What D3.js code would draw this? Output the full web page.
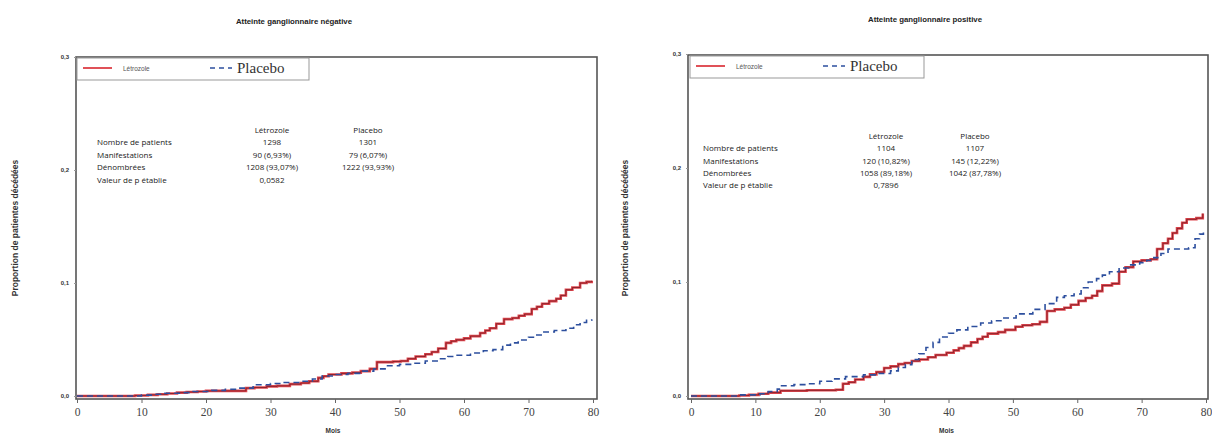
<!DOCTYPE html>
<html><head><meta charset="utf-8">
<script src="https://cdn.jsdelivr.net/npm/d3@7"></script>
<style>body{margin:0;background:#fff}svg{display:block}</style>
</head><body><svg id="c" width="1212" height="440"></svg>
<script>
// ---------- data ----------
const titles = ["Atteinte ganglionnaire négative", "Atteinte ganglionnaire positive"];
const seriesNames = ["Létrozole", "Placebo"];
const xTicks = [0, 10, 20, 30, 40, 50, 60, 70, 80];
const yTicks = [0, 0.1, 0.2, 0.3];
const yTickLabels = ["0,0", "0,1", "0,2", "0,3"];
const xTitle = "Mois";
const yTitle = "Proportion de patientes décédées";
const tableRows = ["Nombre de patients", "Manifestations", "Dénombrées", "Valeur de p établie"];

// negative nodes
const negLetMonths = [0, 9, 11, 12.5, 14, 15.5, 17, 18.7, 20, 26.2, 27.5, 29.4, 31, 33, 34.7, 36, 37.4, 38.2, 39, 41, 42.7, 44, 45.4, 46.5, 49, 50.2, 51.3, 52.5, 54, 55, 56, 57.2, 58, 58.8, 60, 61, 62.5, 63.3, 64, 65, 66.2, 67.5, 68.5, 69.4, 70.5, 71.3, 72.1, 73.2, 74.3, 75, 75.8, 76.8, 78, 79, 79.8];
const negLetValues = [0, 0.0005, 0.001, 0.0015, 0.0022, 0.003, 0.0035, 0.004, 0.0045, 0.007, 0.0075, 0.0085, 0.009, 0.0105, 0.0115, 0.013, 0.016, 0.0175, 0.019, 0.02, 0.0207, 0.022, 0.024, 0.03, 0.0305, 0.031, 0.033, 0.035, 0.037, 0.039, 0.042, 0.047, 0.0485, 0.0497, 0.051, 0.053, 0.0557, 0.058, 0.06, 0.064, 0.068, 0.069, 0.071, 0.0725, 0.077, 0.079, 0.0817, 0.084, 0.086, 0.089, 0.094, 0.096, 0.1, 0.101, 0.102];
const negPlaMonths = [0, 10, 12, 13.3, 16, 18, 20.9, 23, 25.1, 27.3, 30, 32, 34.7, 36.5, 38, 40, 42, 44.3, 46, 48, 50, 52, 54, 56, 57.5, 58.8, 61, 63, 64.5, 66, 67.2, 68.4, 70, 71, 72.1, 74, 75.8, 77, 78, 79, 79.8];
const negPlaValues = [0, 0.0008, 0.0015, 0.0025, 0.003, 0.004, 0.005, 0.006, 0.007, 0.01, 0.011, 0.012, 0.013, 0.015, 0.0177, 0.019, 0.02, 0.022, 0.024, 0.0268, 0.028, 0.029, 0.031, 0.033, 0.035, 0.036, 0.038, 0.04, 0.041, 0.045, 0.047, 0.0496, 0.052, 0.054, 0.0566, 0.058, 0.06, 0.063, 0.065, 0.067, 0.068];
const negTableLet = ["1298", "90 (6,93%)", "1208 (93,07%)", "0,0582"];
const negTablePla = ["1301", "79 (6,07%)", "1222 (93,93%)", ""];

// positive nodes
const posLetMonths = [0, 7.5, 9, 10.5, 12, 13.9, 18, 22.5, 23.6, 24.5, 25.5, 26.8, 27.8, 28.8, 30, 31, 32.2, 33.2, 34.3, 35.5, 36.8, 38, 39.7, 40.8, 41.6, 42.4, 43.5, 44.5, 45.3, 46.1, 47.7, 48.8, 50.4, 51.5, 53, 54.2, 55.3, 56.5, 58, 59, 60.2, 61.3, 62.3, 63.1, 63.9, 65.4, 66.5, 67.5, 68.7, 70, 71.4, 72.4, 73.3, 74.1, 74.8, 75.5, 76.3, 77, 78.5, 79.5];
const posLetValues = [0, 0.0005, 0.001, 0.002, 0.003, 0.0046, 0.005, 0.0055, 0.0107, 0.012, 0.0145, 0.0168, 0.019, 0.021, 0.0246, 0.026, 0.028, 0.029, 0.0307, 0.032, 0.034, 0.036, 0.038, 0.04, 0.042, 0.044, 0.047, 0.05, 0.052, 0.0547, 0.056, 0.058, 0.0607, 0.062, 0.063, 0.065, 0.0746, 0.076, 0.0774, 0.08, 0.0834, 0.086, 0.088, 0.092, 0.097, 0.0986, 0.109, 0.113, 0.118, 0.119, 0.12, 0.129, 0.134, 0.138, 0.143, 0.147, 0.152, 0.155, 0.156, 0.16];
const posPlaMonths = [0, 7.5, 10.7, 12, 13.4, 13.9, 16, 18.2, 20, 21.9, 24, 26.8, 28.9, 31, 32.2, 33.3, 34.3, 35.4, 36.5, 37.6, 38.6, 40, 41.3, 43, 45, 46.7, 48.3, 50.5, 53.1, 55, 56.8, 58, 59.5, 60.6, 61.7, 63, 63.9, 65, 66.5, 68, 69.7, 70.8, 71.9, 73, 74.1, 77.3, 78.3, 79, 79.6];
const posPlaValues = [0, 0.001, 0.002, 0.004, 0.006, 0.009, 0.01, 0.0107, 0.013, 0.015, 0.017, 0.0185, 0.0198, 0.022, 0.025, 0.0274, 0.032, 0.037, 0.0425, 0.047, 0.0518, 0.055, 0.058, 0.061, 0.064, 0.066, 0.0684, 0.072, 0.076, 0.081, 0.0865, 0.088, 0.0895, 0.095, 0.1, 0.103, 0.106, 0.109, 0.1123, 0.115, 0.117, 0.119, 0.1214, 0.125, 0.129, 0.13, 0.138, 0.142, 0.147];
const posTableLet = ["1104", "120 (10,82%)", "1058 (89,18%)", "0,7896"];
const posTablePla = ["1107", "145 (12,22%)", "1042 (87,78%)", ""];

// ---------- layout ----------
const panels = [
  {title: titles[0], box: [76, 57, 597, 399], xr: [77, 593], yr: [396, 57], titleX: 294, titleY: 24,
   ylabX: 18, tbl: {lx: 97, c1: 272, c2: 368, y: 133, dy: 12.4}, leg: [77, 309],
   let: [negLetMonths, negLetValues], pla: [negPlaMonths, negPlaValues], tl: negTableLet, tp: negTablePla},
  {title: titles[1], box: [688, 55, 1208, 399], xr: [691, 1206], yr: [396, 54], titleX: 925, titleY: 22,
   ylabX: 628, tbl: {lx: 703, c1: 886, c2: 975, y: 139, dy: 12.3}, leg: [690, 924],
   let: [posLetMonths, posLetValues], pla: [posPlaMonths, posPlaValues], tl: posTableLet, tp: posTablePla}
];

const svg = d3.select("#c");
const RED = "#d9262f", BLUE = "#2d4f9e";
const SANS = "Liberation Sans, Arial, sans-serif";

panels.forEach(p => {
  const g = svg.append("g");
  const x = d3.scaleLinear().domain([0, 80]).range(p.xr);
  const y = d3.scaleLinear().domain([0, 0.3]).range(p.yr);
  const [bx0, by0, bx1, by1] = p.box;

  g.append("text").attr("x", p.titleX).attr("y", p.titleY).attr("text-anchor", "middle")
    .attr("font-family", SANS).attr("font-size", 7.8).attr("font-weight", "bold")
    .attr("fill", "#222").text(p.title);

  // frame
  g.append("rect").attr("x", bx0).attr("y", by0).attr("width", bx1 - bx0).attr("height", by1 - by0)
    .attr("fill", "none").attr("stroke", "#555").attr("stroke-width", 1.6);

  // x axis
  const xa = g.append("g").attr("transform", `translate(0,${by1})`)
    .call(d3.axisBottom(x).tickValues(xTicks).tickSize(4).tickSizeOuter(0));
  xa.select(".domain").remove();
  xa.selectAll("line").attr("stroke", "#666");
  xa.selectAll("text").attr("font-family", "Liberation Serif, serif").attr("font-size", 11.5)
    .attr("fill", "#444").attr("dy", "0.9em");
  g.append("text").attr("x", (p.xr[0] + p.xr[1]) / 2 - 2).attr("y", by1 + 34).attr("text-anchor", "middle")
    .attr("font-family", SANS).attr("font-size", 6.5).attr("font-weight", "bold")
    .attr("fill", "#333").text(xTitle);

  // y axis
  const ya = g.append("g").attr("transform", `translate(${bx0},0)`)
    .call(d3.axisLeft(y).tickValues(yTicks).tickFormat((d, i) => yTickLabels[i]).tickSize(2).tickSizeOuter(0));
  ya.select(".domain").remove();
  ya.selectAll("line").attr("stroke", "#999");
  ya.selectAll("text").attr("font-family", SANS).attr("font-size", 6)
    .attr("font-weight", "bold").attr("fill", "#333").attr("x", -7);
  g.append("text").attr("transform", `translate(${p.ylabX},228) rotate(-90)`).attr("text-anchor", "middle")
    .attr("font-family", SANS).attr("font-size", 8.5).attr("font-weight", "bold")
    .attr("fill", "#333").text(yTitle);

  // curves
  const line = d3.line().x(d => x(d[0])).y(d => y(d[1])).curve(d3.curveStepAfter);
  const pla = d3.zip(p.pla[0], p.pla[1]);
  const lt = d3.zip(p.let[0], p.let[1]);
  g.append("path").datum(lt).attr("d", line).attr("fill", "none").attr("stroke", RED).attr("stroke-width", 2.6)
    .attr("stroke-opacity", 0.85);
  g.append("path").datum(lt).attr("d", line).attr("fill", "none").attr("stroke", "#7a1a22").attr("stroke-width", 0.8);
  g.append("path").datum(pla).attr("d", line).attr("fill", "none").attr("stroke", BLUE).attr("stroke-width", 1.6)
    .attr("stroke-dasharray", "6,4");

  // legend
  const [lx0, lx1] = p.leg;
  g.append("rect").attr("x", lx0).attr("y", by0 + 1).attr("width", lx1 - lx0).attr("height", 22)
    .attr("fill", "#fff").attr("stroke", "#999").attr("stroke-width", 1);
  const ly = by0 + 11;
  g.append("line").attr("x1", lx0 + 6).attr("x2", lx0 + 35).attr("y1", ly).attr("y2", ly)
    .attr("stroke", RED).attr("stroke-width", 1.6);
  g.append("text").attr("x", lx0 + 46).attr("y", ly + 2.5).attr("font-family", SANS)
    .attr("font-size", 6.5).attr("fill", "#555").text(seriesNames[0]);
  g.append("line").attr("x1", lx0 + 133).attr("x2", lx0 + 155).attr("y1", ly).attr("y2", ly)
    .attr("stroke", BLUE).attr("stroke-width", 1.3).attr("stroke-dasharray", "5,4");
  g.append("text").attr("x", lx0 + 160).attr("y", ly + 5).attr("font-family", "Liberation Serif, Times New Roman, serif")
    .attr("font-size", 15).attr("fill", "#333").text(seriesNames[1]);

  // table
  const t = p.tbl;
  const tf = "Open Sans, Liberation Sans, sans-serif";
  const fs = 8;
  g.append("text").attr("x", t.c1).attr("y", t.y).attr("text-anchor", "middle").attr("font-family", tf)
    .attr("font-size", fs).attr("fill", "#1a1a1a").text(seriesNames[0]);
  g.append("text").attr("x", t.c2).attr("y", t.y).attr("text-anchor", "middle").attr("font-family", tf)
    .attr("font-size", fs).attr("fill", "#1a1a1a").text(seriesNames[1]);
  tableRows.forEach((r, i) => {
    const yy = t.y + t.dy * (i + 1);
    g.append("text").attr("x", t.lx).attr("y", yy).attr("font-family", tf).attr("font-size", fs)
      .attr("fill", "#1a1a1a").text(r);
    g.append("text").attr("x", t.c1).attr("y", yy).attr("text-anchor", "middle").attr("font-family", tf)
      .attr("font-size", fs).attr("fill", "#1a1a1a").text(p.tl[i]);
    g.append("text").attr("x", t.c2).attr("y", yy).attr("text-anchor", "middle").attr("font-family", tf)
      .attr("font-size", fs).attr("fill", "#1a1a1a").text(p.tp[i]);
  });
});
</script></body></html>
